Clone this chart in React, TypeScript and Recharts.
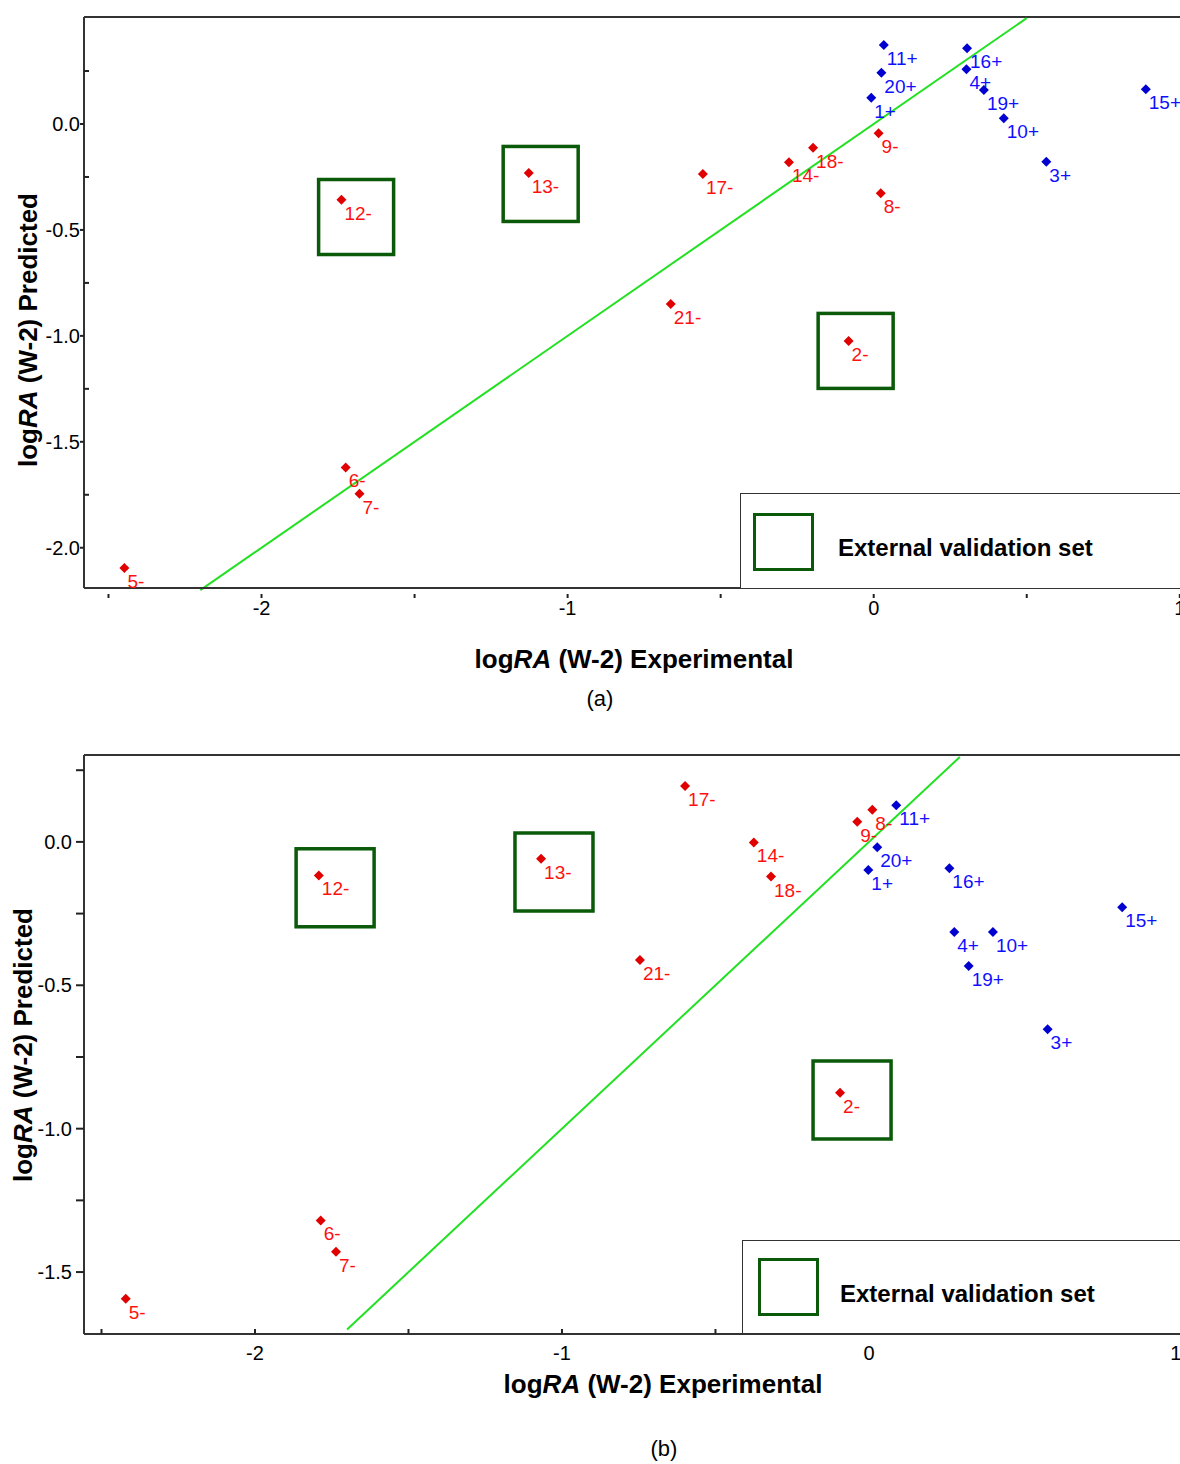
import React from 'react';
import { ScatterChart, Scatter, XAxis, YAxis, ReferenceLine, Legend, Label } from 'recharts';

const FONT = '"Liberation Sans", Arial, Helvetica, sans-serif';

// compounds
const negLabels = ['2-', '5-', '6-', '7-', '8-', '9-', '12-', '13-', '14-', '17-', '18-', '21-'];
const posLabels = ['1+', '3+', '4+', '10+', '11+', '15+', '16+', '19+', '20+'];
const validationLabels = ['12-', '13-', '2-'];
const legendName = 'External validation set';

// panel (a)
const negExpA = [-0.082, -2.448, -1.725, -1.68, 0.023, 0.016, -1.739, -1.127, -0.277, -0.558, -0.198, -0.663];
const negPredA = [-1.024, -2.096, -1.621, -1.745, -0.327, -0.044, -0.358, -0.231, -0.181, -0.236, -0.112, -0.849];
const posExpA = [-0.008, 0.564, 0.303, 0.425, 0.033, 0.889, 0.305, 0.36, 0.025];
const posPredA = [0.124, -0.178, 0.258, 0.027, 0.373, 0.164, 0.357, 0.16, 0.242];
const boxExpA = [-1.691, -1.088, -0.059];
const boxPredA = [-0.439, -0.283, -1.071];
const diagA = [-2.2, 0.5];

// panel (b)
const negExpB = [-0.094, -2.421, -1.786, -1.736, 0.011, -0.038, -1.792, -1.068, -0.375, -0.599, -0.319, -0.746];
const negPredB = [-0.875, -1.593, -1.32, -1.429, 0.112, 0.07, -0.117, -0.059, -0.002, 0.195, -0.121, -0.412];
const posExpB = [-0.002, 0.582, 0.278, 0.404, 0.089, 0.825, 0.262, 0.325, 0.027];
const posPredB = [-0.098, -0.653, -0.314, -0.314, 0.128, -0.228, -0.092, -0.433, -0.019];
const boxExpB = [-1.739, -1.026, -0.055];
const boxPredB = [-0.16, -0.105, -0.9];
const diagB = [-1.7, 0.296];

// ticks
const xTicks = [-2.5, -2, -1.5, -1, -0.5, 0, 0.5, 1];
const yTicksA = [0.25, 0, -0.25, -0.5, -0.75, -1, -1.25, -1.5, -1.75, -2];
const yTicksB = [0.25, 0, -0.25, -0.5, -0.75, -1, -1.25, -1.5];

const toPoints = (labels: string[], xs: number[], ys: number[]) =>
  labels.map((label, i) => ({ label, x: xs[i], y: ys[i] }));

const makeMarker = (fill: string, textFill: string) => (props: any) => {
  const { cx, cy, payload } = props;
  if (cx == null || cy == null) return null;
  const r = 5;
  return (
    <g>
      <path d={`M${cx} ${cy - r}L${cx + r} ${cy}L${cx} ${cy + r}L${cx - r} ${cy}Z`} fill={fill} />
      <text x={cx + 3} y={cy + 20} fontSize={19} fontFamily={FONT} fill={textFill}>
        {payload.label}
      </text>
    </g>
  );
};

const makeBox = (size: number) => (props: any) => {
  const { cx, cy } = props;
  if (cx == null || cy == null) return null;
  return (
    <rect x={cx - size / 2} y={cy - size / 2} width={size} height={size}
      fill="none" stroke="#0a5a0a" strokeWidth={3.5} />
  );
};

const renderXTick = (variant: string) => (props: any) => {
  const { x, y, payload } = props;
  const v = payload.value;
  const major = Number.isInteger(v);
  return (
    <g>
      {variant === 'a'
        ? <line x1={x} x2={x} y1={y + 6} y2={y + 10} stroke="#222" strokeWidth={2} />
        : <line x1={x} x2={x} y1={y - 5} y2={y} stroke="#222" strokeWidth={2} />}
      {major && (
        <text x={x} y={y + (variant === 'a' ? 27 : 26)} textAnchor="middle" fontSize={20} fontFamily={FONT} fill="#000">
          {String(v)}
        </text>
      )}
    </g>
  );
};

const renderYTick = (variant: string) => (props: any) => {
  const { x, y, payload } = props;
  const v = payload.value;
  const major = Math.abs(v * 2 - Math.round(v * 2)) < 1e-6;
  let tick;
  if (variant === 'a') {
    tick = major
      ? <line x1={x - 4} x2={x} y1={y} y2={y} stroke="#222" strokeWidth={2} />
      : <line x1={x} x2={x + 5} y1={y} y2={y} stroke="#222" strokeWidth={2} />;
  } else {
    tick = <line x1={x - 8} x2={x} y1={y} y2={y} stroke="#222" strokeWidth={2} />;
  }
  return (
    <g>
      {tick}
      {major && (
        <text x={variant === 'a' ? x - 4 : x - 12} y={y + 7} textAnchor="end" fontSize={20} fontFamily={FONT} fill="#000">
          {v.toFixed(1)}
        </text>
      )}
    </g>
  );
};

const AxisTitle = ({ x, y, suffix, rotate }: any) => (
  <text x={x} y={y} textAnchor="middle" fontSize={26} fontWeight="bold" fontFamily={FONT} fill="#000"
    transform={rotate ? `rotate(-90 ${x} ${y})` : undefined}>
    log<tspan fontStyle="italic">RA</tspan> (W-2) {suffix}
  </text>
);

const LegendBox = ({ sqLeft, sqTop, textTop }: any) => (
  <div style={{
    position: 'relative', width: '100%', height: '100%', boxSizing: 'border-box',
    border: '1.5px solid #333', background: '#fff',
  }}>
    <div style={{
      position: 'absolute', left: sqLeft, top: sqTop, width: 61, height: 58,
      boxSizing: 'border-box', border: '3.5px solid #0a5a0a',
    }} />
    <span style={{
      position: 'absolute', left: 97, top: textTop, fontFamily: FONT, fontWeight: 'bold',
      fontSize: 24, lineHeight: '24px', color: '#000', whiteSpace: 'nowrap',
    }}>
      {legendName}
    </span>
  </div>
);

const Panel = ({ cfg }: any) => {
  const neg = toPoints(negLabels, cfg.negExp, cfg.negPred);
  const pos = toPoints(posLabels, cfg.posExp, cfg.posPred);
  const boxes = toPoints(validationLabels, cfg.boxExp, cfg.boxPred);
  return (
    <div style={{ position: 'absolute', left: 0, top: cfg.top }}>
      <ScatterChart width={1241} height={cfg.height}
        margin={{ top: cfg.marginTop, right: 0, bottom: 0, left: 0 }}>
        <XAxis type="number" dataKey="x" domain={cfg.xDomain} ticks={xTicks} interval={0}
          allowDataOverflow height={cfg.xAxisHeight} tickSize={0} tickMargin={0} tickLine={false}
          axisLine={{ stroke: '#333', strokeWidth: 2 }} tick={renderXTick(cfg.variant)}>
          <Label content={() => (
            <g>
              <AxisTitle x={cfg.xTitle[0]} y={cfg.xTitle[1]} suffix="Experimental" />
              <text x={cfg.caption[0]} y={cfg.caption[1]} textAnchor="middle" fontSize={22} fontFamily={FONT} fill="#000">
                {cfg.captionText}
              </text>
            </g>
          )} />
        </XAxis>
        <YAxis type="number" dataKey="y" domain={cfg.yDomain} ticks={cfg.yTicks} interval={0}
          allowDataOverflow width={84} tickSize={0} tickMargin={0} tickLine={false}
          axisLine={{ stroke: '#333', strokeWidth: 2 }} tick={renderYTick(cfg.variant)}>
          <Label content={() => (
            <AxisTitle x={cfg.yTitle[0]} y={cfg.yTitle[1]} suffix="Predicted" rotate />
          )} />
        </YAxis>
        <ReferenceLine y={cfg.yDomain[1]} stroke="#333" strokeWidth={2} ifOverflow="visible" />
        <ReferenceLine segment={[{ x: cfg.diag[0], y: cfg.diag[0] }, { x: cfg.diag[1], y: cfg.diag[1] }]}
          stroke="#22e022" strokeWidth={2} ifOverflow="visible" />
        <Scatter name={legendName} data={boxes} shape={makeBox(cfg.boxSize)} isAnimationActive={false} />
        <Scatter name="negative" data={neg} shape={makeMarker('#e00000', '#ff1010')} legendType="none" isAnimationActive={false} />
        <Scatter name="positive" data={pos} shape={makeMarker('#0000d0', '#1010ff')} legendType="none" isAnimationActive={false} />
        <Legend layout="vertical" align="center" verticalAlign="middle"
          wrapperStyle={{ left: cfg.legend[0], top: cfg.legend[1], width: 520, height: cfg.legend[2] }}
          content={() => <LegendBox sqLeft={cfg.legendSq[0]} sqTop={cfg.legendSq[1]} textTop={cfg.legendTextTop} />} />
      </ScatterChart>
    </div>
  );
};

const panelA = {
  variant: 'a', top: 0, height: 720, marginTop: 17, xAxisHeight: 132,
  xDomain: [-2.58, 1.2], yDomain: [-2.19, 0.505], yTicks: yTicksA,
  negExp: negExpA, negPred: negPredA, posExp: posExpA, posPred: posPredA,
  boxExp: boxExpA, boxPred: boxPredA, diag: diagA, boxSize: 75,
  xTitle: [634, 668], caption: [600, 706], captionText: '(a)', yTitle: [37, 330],
  legend: [740, 493, 96], legendSq: [12, 19], legendTextTop: 42,
};

const panelB = {
  variant: 'b', top: 720, height: 744, marginTop: 35, xAxisHeight: 130,
  xDomain: [-2.557, 1.212], yDomain: [-1.716, 0.303], yTicks: yTicksB,
  negExp: negExpB, negPred: negPredB, posExp: posExpB, posPred: posPredB,
  boxExp: boxExpB, boxPred: boxPredB, diag: diagB, boxSize: 78,
  xTitle: [663, 673], caption: [664, 736], captionText: '(b)', yTitle: [32, 325],
  legend: [742, 520, 94], legendSq: [15, 17], legendTextTop: 41,
};

export default function App() {
  return (
    <div style={{
      position: 'absolute', left: 0, top: 0, width: 1180, height: 1464,
      overflow: 'hidden', background: '#fff',
    }}>
      <Panel cfg={panelA} />
      <Panel cfg={panelB} />
    </div>
  );
}
